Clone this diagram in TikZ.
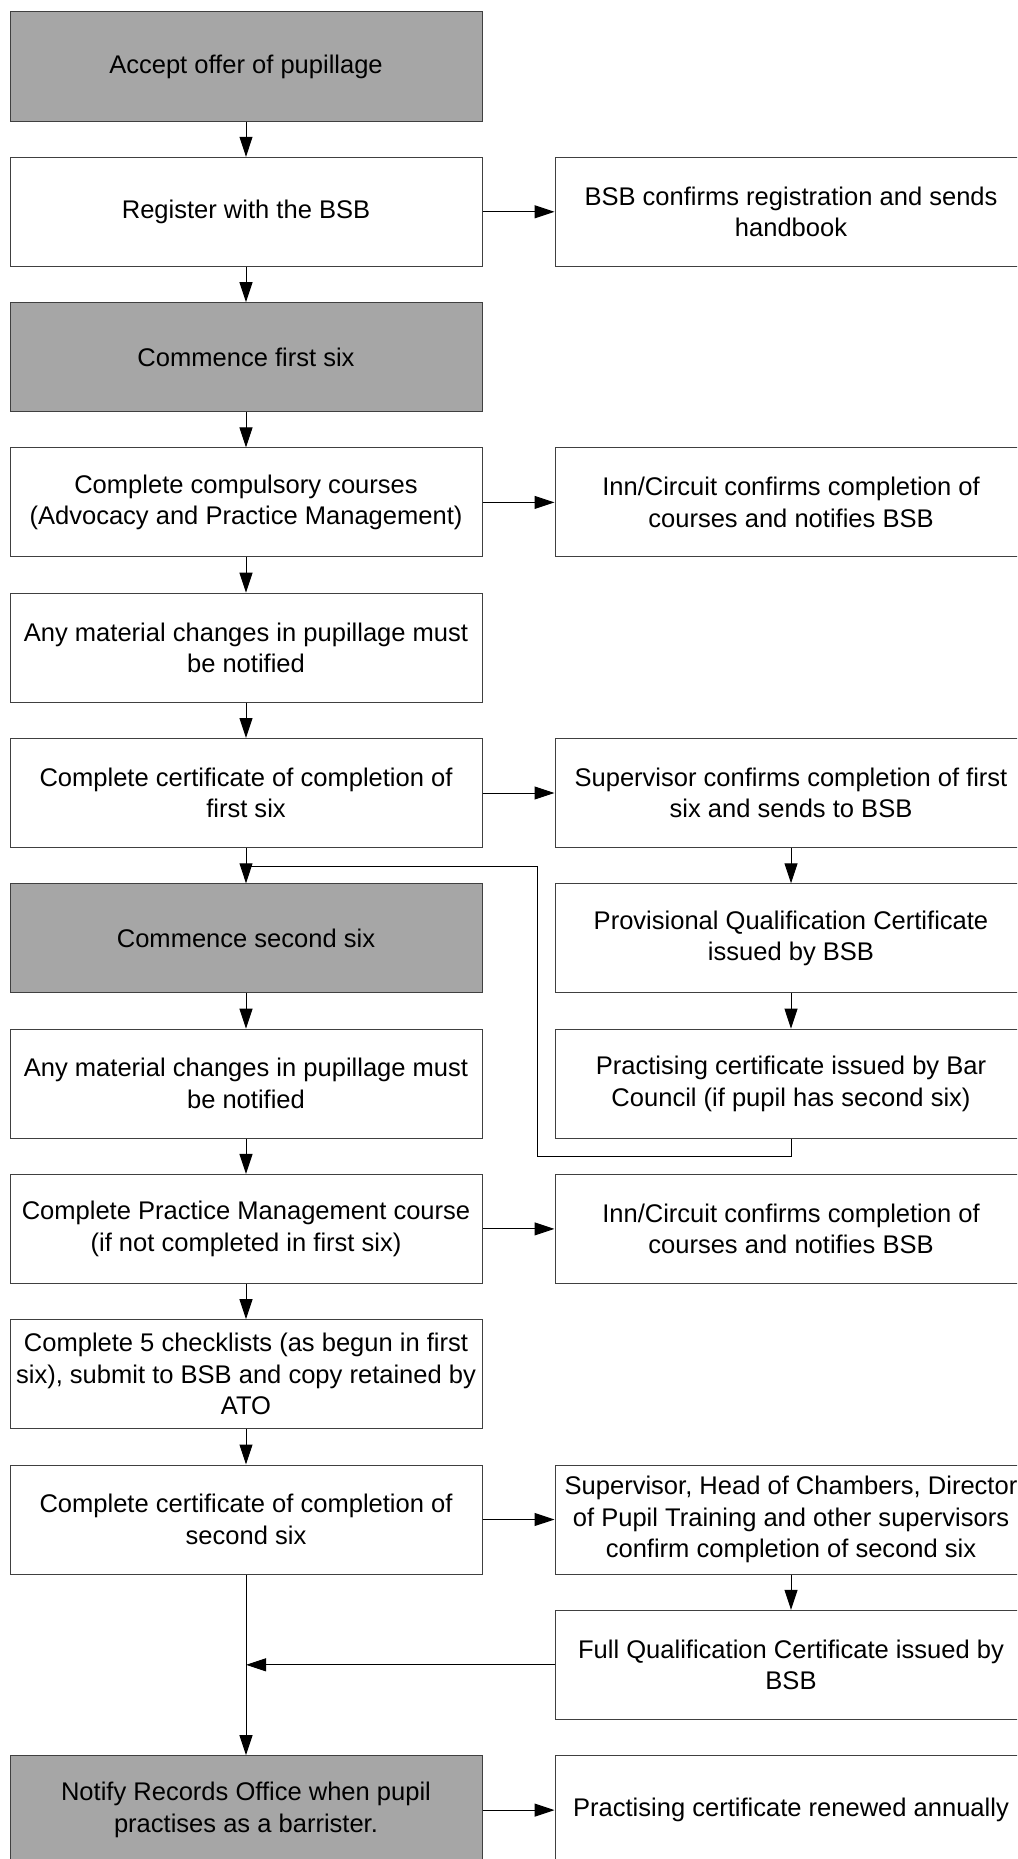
\documentclass[tikz,border=0pt]{standalone}
\usepackage{fontspec}
\setmainfont{Liberation Sans}
\usetikzlibrary{arrows.meta}
\definecolor{boxgray}{HTML}{A6A6A6}
\definecolor{edge}{HTML}{404040}
\begin{document}
\begin{tikzpicture}[x=0.75pt,y=-0.75pt,
  box/.style={draw=edge, line width=0.75pt, fill=white, minimum width=354pt,
    minimum height=81.75pt, align=center, inner sep=0pt,
    font=\fontsize{19.15}{23.7}\selectfont},
  gbox/.style={box, fill=boxgray},
  conn/.style={line width=0.75pt, draw=black},
  arr/.style={conn, -{Triangle[length=15pt,width=9.75pt]}}]
\useasboundingbox (0,0) rectangle (1017,1859);
\clip (0,0) rectangle (1017,1859);
% left column
\node[gbox] (l0) at (246,66.5) {Accept offer of pupillage};
\node[box] (l1) at (246,211.8) {Register with the BSB};
\node[gbox] (l2) at (246,357.1) {Commence first six};
\node[box] (l3) at (246,502.4) {Complete compulsory courses\\(Advocacy and Practice Management)};
\node[box] (l4) at (246,647.7) {Any material changes in pupillage must\\be notified};
\node[box] (l5) at (246,793.0) {Complete certificate of completion of\\first six};
\node[gbox] (l6) at (246,938.3) {Commence second six};
\node[box] (l7) at (246,1083.6) {Any material changes in pupillage must\\be notified};
\node[box] (l8) at (246,1228.9) {Complete Practice Management course\\(if not completed in first six)};
\node[box] (l9) at (246,1374.2) {Complete 5 checklists (as begun in first\\six), submit to BSB and copy retained by\\ATO};
\node[box] (l10) at (246,1519.5) {Complete certificate of completion of\\second six};
\node[gbox] (l12) at (246,1810.1) {Notify Records Office when pupil\\practises as a barrister.};
% right column
\node[box] (r1) at (791,211.8) {BSB confirms registration and sends\\handbook};
\node[box] (r3) at (791,502.4) {Inn/Circuit confirms completion of\\courses and notifies BSB};
\node[box] (r5) at (791,793.0) {Supervisor confirms completion of first\\six and sends to BSB};
\node[box] (r6) at (791,938.3) {Provisional Qualification Certificate\\issued by BSB};
\node[box] (r7) at (791,1083.6) {Practising certificate issued by Bar\\Council (if pupil has second six)};
\node[box] (r8) at (791,1228.9) {Inn/Circuit confirms completion of\\courses and notifies BSB};
\node[box] (r10) at (791,1519.5) {Supervisor, Head of Chambers, Director\\of Pupil Training and other supervisors\\confirm completion of second six};
\node[box] (r11) at (791,1664.8) {Full Qualification Certificate issued by\\BSB};
\node[box] (r12) at (791,1810.1) {Practising certificate renewed annually};
% vertical arrows left
\foreach \a/\b in {l0/l1,l1/l2,l2/l3,l3/l4,l4/l5,l5/l6,l6/l7,l7/l8,l8/l9,l9/l10,l10/l12}
  \draw[arr] (\a) -- (\b);
% horizontal arrows
\foreach \a/\b in {l1/r1,l3/r3,l5/r5,l8/r8,l10/r10,l12/r12}
  \draw[arr] (\a) -- (\b);
% right vertical arrows
\foreach \a/\b in {r5/r6,r6/r7,r10/r11}
  \draw[arr] (\a) -- (\b);
% loop from practising certificate back to main line
\coordinate (c1) at (537,1156);
\coordinate (c2) at (537,866);
\draw[conn] (r7.south) |- (c1) -- (c2) -- (l5.south |- c2);
% full qualification certificate to main line
\draw[arr] (r11.west) -- (r11.west -| l10.south);
\end{tikzpicture}
\end{document}
